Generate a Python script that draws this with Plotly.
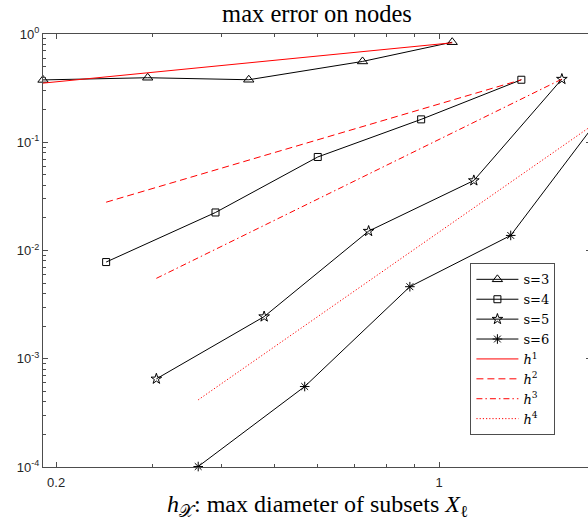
import plotly.graph_objects as go
import math

# ---- data ----
s3_x = [0.1893, 0.2939, 0.4494, 0.7248, 1.0565]
s3_y = [0.3765, 0.3946, 0.378, 0.5577, 0.840]
s4_x = [0.2468, 0.3908, 0.6005, 0.9273, 1.4127]
s4_y = [0.00782, 0.02245, 0.0731, 0.1627, 0.378]
s5_x = [0.3048, 0.4794, 0.7436, 1.157, 1.675]
s5_y = [6.52e-4, 2.45e-3, 0.0151, 0.0443, 0.383]
s6_x = [0.3634, 0.5685, 0.8843, 1.351, 1.93]
s6_y = [1.01e-4, 5.54e-4, 4.63e-3, 0.01378, 0.1505]

h1_x = [0.1893, 1.0565]
h1_y = [0.3518, 0.8295]
h2_x = [0.2468, 1.4127]
h2_y = [0.02794, 0.378]
h3_x = [0.3048, 1.675]
h3_y = [5.53e-3, 0.383]
h4_x = [0.3634, 1.93]
h4_y = [4.17e-4, 0.1505]

x_tick_vals = [0.2, 1]
x_tick_text = ["0.2", "1"]
y_tick_vals = [1e-4, 1e-3, 1e-2, 1e-1, 1]
y_tick_text = ["10<sup>-4</sup>", "10<sup>-3</sup>", "10<sup>-2</sup>", "10<sup>-1</sup>", "10<sup>0</sup>"]
x_range = [0.1893, 1.893]
y_range = [1e-4, 1]

series = [
    ("s=3", s3_x, s3_y, "triangle-up-open", 9),
    ("s=4", s4_x, s4_y, "square-open", 7),
    ("s=5", s5_x, s5_y, "star-open", 8),
    ("s=6", s6_x, s6_y, "asterisk-open", 8),
]
refs = [
    ("<i>h</i><sup>1</sup>", h1_x, h1_y, "solid"),
    ("<i>h</i><sup>2</sup>", h2_x, h2_y, "7px,4px"),
    ("<i>h</i><sup>3</sup>", h3_x, h3_y, "6px,3px,1.5px,3px"),
    ("<i>h</i><sup>4</sup>", h4_x, h4_y, "1.2px,2px"),
]

SERIF = "Liberation Serif"
LEG_SERIF = "DejaVu Serif"

fig = go.Figure()
for name, xs, ys, sym, sz in series:
    fig.add_trace(go.Scatter(
        x=xs, y=ys, name=name, mode="lines+markers",
        line=dict(color="#000000", width=1),
        marker=dict(symbol=sym, size=sz, color="#000000",
                    line=dict(color="#000000", width=1)),
        cliponaxis=False,
    ))
for name, xs, ys, dash in refs:
    fig.add_trace(go.Scatter(
        x=xs, y=ys, name=name, mode="lines",
        line=dict(color="#ff0000", width=1, dash=dash),
    ))

# minor tick positions
x_minor = [v / 10 for v in range(2, 10)] + [float(v) for v in range(1, 10)]
y_minor = []
for e in range(-4, 0):
    for m in range(2, 10):
        y_minor.append(m * 10 ** e)

axis_color = "#4d4d4d"
tick_font = dict(family="Liberation Sans", size=13, color="#262626")

W, H = 594, 522
L, R, T, B = 42.5, 2.5, 33.5, 54.7

fig.update_layout(
    template="none",
    font=dict(family=SERIF, size=14, color="#000000"),
    width=W, height=H,
    margin=dict(l=L, r=R, t=T, b=B, pad=0),
    paper_bgcolor="white", plot_bgcolor="white",
    showlegend=True,
    xaxis=dict(
        type="log", range=[math.log10(x_range[0]), math.log10(x_range[1])],
        tickmode="array", tickvals=x_tick_vals, ticktext=x_tick_text,
        ticks="inside", ticklen=5, tickwidth=1, tickcolor=axis_color,
        showline=True, linecolor=axis_color, linewidth=1, mirror="ticks",
        showgrid=False, zeroline=False, tickfont=tick_font, ticklabelstandoff=3,
        minor=dict(tickmode="array", tickvals=x_minor, ticks="inside",
                   ticklen=3, tickwidth=1, tickcolor=axis_color, showgrid=False),
    ),
    yaxis=dict(
        type="log", range=[math.log10(y_range[0]), math.log10(y_range[1])],
        tickmode="array", tickvals=y_tick_vals, ticktext=y_tick_text,
        ticks="inside", ticklen=5, tickwidth=1, tickcolor=axis_color,
        showline=True, linecolor=axis_color, linewidth=1, mirror="ticks",
        showgrid=False, zeroline=False, tickfont=tick_font,
        minor=dict(tickmode="array", tickvals=y_minor, ticks="inside",
                   ticklen=3, tickwidth=1, tickcolor=axis_color, showgrid=False),
    ),
    legend=dict(
        x=(470.7 - L) / (W - L - R), y=(H - B - 263.3) / (H - T - B),
        xanchor="left", yanchor="top",
        bgcolor="white", bordercolor="#4d4d4d", borderwidth=1,
        font=dict(family=LEG_SERIF, size=13, color="#000000"),
        tracegroupgap=0, itemwidth=42,
    ),
    title=dict(
        text="max error on nodes",
        font=dict(family=SERIF, size=24.5, color="#000000"),
        xref="container", yref="container",
        x=317 / W, y=1 - 13 / H, xanchor="center", yanchor="middle",
    ),
    annotations=[dict(
        text="<i>h</i><sub>𝒳</sub>: max diameter of subsets <i>X</i><sub>ℓ</sub>",
        xref="paper", yref="paper", x=0.5, y=-(506 - (H - B)) / (H - T - B),
        xanchor="center", yanchor="middle", showarrow=False,
        font=dict(family=SERIF, size=24, color="#000000"),
    )],
)

fig.write_html("out.html", config={"displayModeBar": False},
               post_script="document.body.style.margin='0';document.body.style.overflow='hidden';")
